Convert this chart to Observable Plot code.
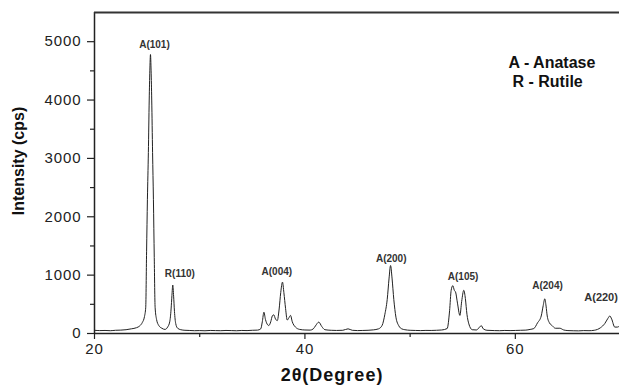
<!DOCTYPE html>
<html><head><meta charset="utf-8">
<script src="https://cdn.jsdelivr.net/npm/d3@7"></script>
<script src="https://cdn.jsdelivr.net/npm/@observablehq/plot@0.6"></script>
<style>
html,body{margin:0;padding:0;background:#fff;}
#chart svg{display:block;}
g[aria-label="y-axis tick label"] text, g[aria-label="x-axis tick label"] text{letter-spacing:0.9px;}
svg text.xt{letter-spacing:1px;}
</style>
</head><body><div id="chart"></div>
<script>
// XRD pattern: 2θ (degrees) and intensity (cps)
const twoTheta = [20.0,20.5,21.0,21.5,22.0,22.5,23.0,23.5,24.0,24.3,24.55,24.75,24.87,24.95,25.03,25.12,25.2,25.26,25.32,25.38,25.44,25.52,25.6,25.68,25.76,25.9,26.1,26.4,26.7,26.95,27.15,27.28,27.36,27.44,27.52,27.6,27.72,27.9,28.2,28.6,29.0,29.5,30.0,30.5,31.0,31.5,32.0,32.5,33.0,33.5,34.0,34.5,35.0,35.5,35.8,35.95,36.1,36.25,36.45,36.57,36.75,36.9,37.04,37.2,37.37,37.55,37.7,37.87,38.0,38.16,38.32,38.45,38.63,38.8,39.1,39.5,40.0,40.5,40.8,41.0,41.32,41.6,41.9,42.5,43.0,43.6,44.1,44.5,45.0,45.5,46.0,46.5,47.0,47.34,47.6,47.82,48.0,48.14,48.28,48.45,48.65,48.93,49.2,49.5,50.0,50.5,51.0,51.5,52.0,52.5,53.0,53.52,53.75,53.9,54.06,54.2,54.32,54.5,54.73,54.9,55.1,55.25,55.4,55.58,55.9,56.3,56.6,56.76,56.95,57.3,58.0,58.5,59.0,59.5,60.0,60.5,61.0,61.4,61.76,62.1,62.46,62.65,62.8,62.92,63.03,63.25,63.5,63.8,64.23,64.6,65.0,65.5,66.0,66.5,67.0,67.5,68.1,68.5,68.8,68.98,69.15,69.45,69.7,69.9];
const intensity = [55,50,52,48,55,58,65,80,100,130,190,290,450,1400,2300,3100,4000,4500,4780,4500,4000,3100,2300,1300,450,240,140,90,70,110,200,420,650,830,640,380,170,90,65,55,52,48,50,47,52,50,48,52,50,47,52,50,55,58,80,200,365,240,150,137,200,300,320,250,220,420,700,880,700,430,230,260,310,200,110,70,60,58,80,130,195,120,65,55,52,55,80,55,50,52,55,62,80,140,330,580,950,1165,950,580,280,130,80,65,55,52,50,53,52,55,60,85,390,740,820,740,710,520,310,550,740,600,330,165,65,60,110,135,80,55,50,48,52,50,52,55,58,70,85,180,300,480,595,470,300,180,135,90,90,60,50,47,45,50,48,55,100,170,260,300,250,110,110,130];

// axis ticks
const yTicks = [0, 1000, 2000, 3000, 4000, 5000];
const yMinorTicks = [500, 1500, 2500, 3500, 4500];
const xTicks = [20, 40, 60];
const xMinorTicks = [30, 50];

// peak annotations
const peakLabels = ["A(101)", "R(110)", "A(004)", "A(200)", "A(105)", "A(204)", "A(220)"];
const peakLabelX = [25.70, 28.11, 37.33, 48.20, 55.03, 63.06, 68.15];
const peakLabelY = [4950, 1020, 1062, 1285, 977, 814, 612];
const peakLabelSize = [10, 10, 10, 10, 10, 10, 11];

// legend
const legendLines = ["A - Anatase", "R - Rutile"];
const legendX = [59.35, 59.73];
const legendY = [4635, 4318];

const pattern = twoTheta.map((t, i) => ({t, v: intensity[i]}));
const peaks = peakLabels.map((s, i) => ({s, x: peakLabelX[i], y: peakLabelY[i], fs: peakLabelSize[i]}));
const legend = legendLines.map((s, i) => ({s, x: legendX[i], y: legendY[i]}));

const font = "'Liberation Sans', Arial, Helvetica, sans-serif";
const fmt = d => String(d);
const chart = Plot.plot({
  width: 619, height: 385,
  marginLeft: 94, marginRight: 0, marginTop: 12, marginBottom: 52,
  style: {fontFamily: font, background: "#fff", color: "#222"},
  x: {domain: [20, 69.9]},
  y: {domain: [0, 5500]},
  marks: [
    Plot.axisY(yTicks, {tickSize: 7, tickPadding: 6, fontSize: 15, tickFormat: fmt, label: null, stroke: "#222", strokeWidth: 1.2, fill: "#222"}),
    Plot.axisY(yMinorTicks, {tickSize: 4, tickFormat: () => "", label: null, stroke: "#222", strokeWidth: 1.2}),
    Plot.axisX(xTicks, {tickSize: 6, tickPadding: 4, fontSize: 15, tickFormat: fmt, label: null, stroke: "#222", strokeWidth: 1.2, fill: "#222"}),
    Plot.axisX(xMinorTicks, {tickSize: 4, tickFormat: () => "", label: null, stroke: "#222", strokeWidth: 1.2}),
    Plot.ruleX([20], {stroke: "#222", strokeWidth: 1.5}),
    Plot.ruleY([0], {stroke: "#222", strokeWidth: 1.5}),
    Plot.ruleY([5500], {stroke: "#333", strokeWidth: 2}),
    Plot.line(pattern, {x: "t", y: "v", stroke: "#222", strokeWidth: 1, curve: "monotone-x"}),
    Plot.text(peaks, {x: "x", y: "y", text: "s", fontSize: "fs", fontWeight: "bold", fill: "#333", textAnchor: "middle"}),
    Plot.text(legend, {x: "x", y: "y", text: "s", fontSize: 16, fontWeight: "bold", fill: "#111", textAnchor: "start"}),
    Plot.text(["Intensity (cps)"], {frameAnchor: "left", textAnchor: "middle", rotate: -90, dx: -76, dy: -12, fontSize: 16, fontWeight: "bold", fill: "#111"}),
    Plot.text(["2θ(Degree)"], {frameAnchor: "bottom", textAnchor: "middle", dx: -25, dy: 47, fontSize: 18, fontWeight: "bold", fill: "#111"})
  ]
});
document.getElementById("chart").appendChild(chart);
chart.querySelectorAll("text").forEach(t => { if (t.textContent === "2θ(Degree)") t.classList.add("xt"); });
</script>
</body></html>
